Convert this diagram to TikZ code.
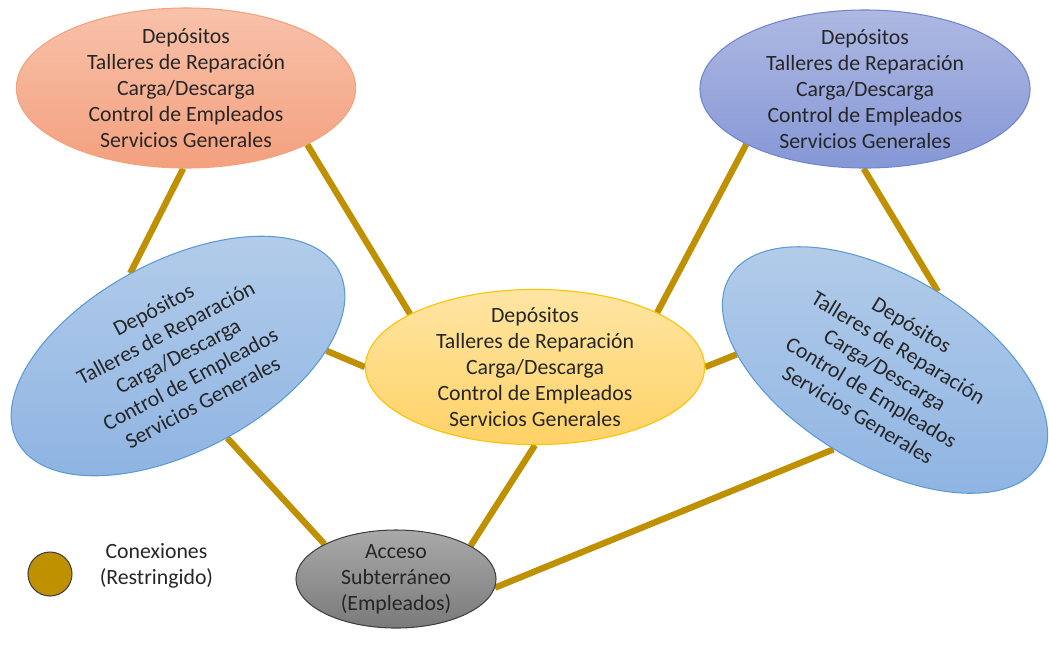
\documentclass[tikz,border=0pt]{standalone}
\usepackage{fontspec}
\setmainfont{Carlito}
\usepackage{xcolor}
\usetikzlibrary{shapes.geometric, positioning, backgrounds}

\definecolor{oro}{HTML}{BF9000}
\definecolor{naranjaA}{HTML}{F8C2AA}
\definecolor{naranjaB}{HTML}{F4A07E}
\definecolor{naranjaC}{HTML}{F2A27C}
\definecolor{lilaA}{HTML}{AEB8E2}
\definecolor{lilaB}{HTML}{8597D6}
\definecolor{lilaC}{HTML}{6F86CF}
\definecolor{azulA}{HTML}{B4CDEA}
\definecolor{azulB}{HTML}{8DB3E2}
\definecolor{azulC}{HTML}{5B9BD5}
\definecolor{amarilloA}{HTML}{FFE5A3}
\definecolor{amarilloB}{HTML}{FFD266}
\definecolor{amarilloC}{HTML}{FFC000}
\definecolor{grisA}{HTML}{A9A9A9}
\definecolor{grisB}{HTML}{7A7A7A}

\begin{document}
\begin{tikzpicture}[x=0.025cm,y=-0.025cm,line width=0.75pt]
			\tikzstyle{zona}=[ellipse,align=center,inner xsep=0pt,inner ysep=-12pt,font=\fontsize{15.5}{18.6}\selectfont,text=black!85]
			\tikzstyle{conexion}=[draw=oro,line width=4.5pt]
			
			\useasboundingbox (0,0) rectangle (1049,654);
			
			\node[zona, minimum width=8.48cm, minimum height=4cm, top color=naranjaA, bottom color=naranjaB, draw=naranjaC] (SupIzq) at (186,88) {Depósitos\\Talleres de Reparación\\Carga/Descarga\\Control de Empleados\\Servicios Generales};
			\node[zona, minimum width=8.25cm, minimum height=3.95cm, top color=lilaA, bottom color=lilaB, draw=lilaC] (SupDer) at (865,89) {Depósitos\\Talleres de Reparación\\Carga/Descarga\\Control de Empleados\\Servicios Generales};
			\node[zona, minimum width=9.1cm, minimum height=4.75cm, top color=azulA, bottom color=azulB, draw=azulC, rotate=28] (Izq) at (178,356) {Depósitos\\Talleres de Reparación\\Carga/Descarga\\Control de Empleados\\Servicios Generales};
			\node[zona, minimum width=9.05cm, minimum height=4.7cm, top color=azulA, bottom color=azulB, draw=azulC, rotate=-31] (Der) at (885,370) {Depósitos\\Talleres de Reparación\\Carga/Descarga\\Control de Empleados\\Servicios Generales};
			\node[zona, minimum width=8.48cm, minimum height=3.88cm, top color=amarilloA, bottom color=amarilloB, draw=amarilloC] (Centro) at (535,367) {Depósitos\\Talleres de Reparación\\Carga/Descarga\\Control de Empleados\\Servicios Generales};
			\node[zona, minimum width=5cm, minimum height=2.45cm, top color=grisA, bottom color=grisB, draw=black!75] (Acceso) at (396,579) {Acceso\\Subterráneo\\(Empleados)};
			
			\node[circle, draw=black!75, fill=oro, minimum size=1.1cm, inner sep=0pt] (Leyenda) at (50,574) {};
			\node[align=center, font=\fontsize{15.5}{18.6}\selectfont, text=black!85] (LeyendaTxt) [right=0.55cm of Leyenda, yshift=0.2cm] {Conexiones\\(Restringido)};
			
			\begin{scope}[on background layer]
			\path (SupIzq.-92) edge[conexion] (Izq.92)
			(SupIzq.-25) edge[conexion] (Centro.157)
			(Izq.-26) edge[conexion] (Centro.180)
			(Izq.-87) edge[conexion] (Acceso.154)
			(Centro.24) edge[conexion] (SupDer.-155)
			(SupDer.-91) edge[conexion] (Der.87)
			(Centro.0) edge[conexion] (Der.-155)
			(Centro.-90) edge[conexion] (Acceso.24)
			(Acceso.-5) edge[conexion] (Der.-92);
			\end{scope}
		\end{tikzpicture}
\end{document}
